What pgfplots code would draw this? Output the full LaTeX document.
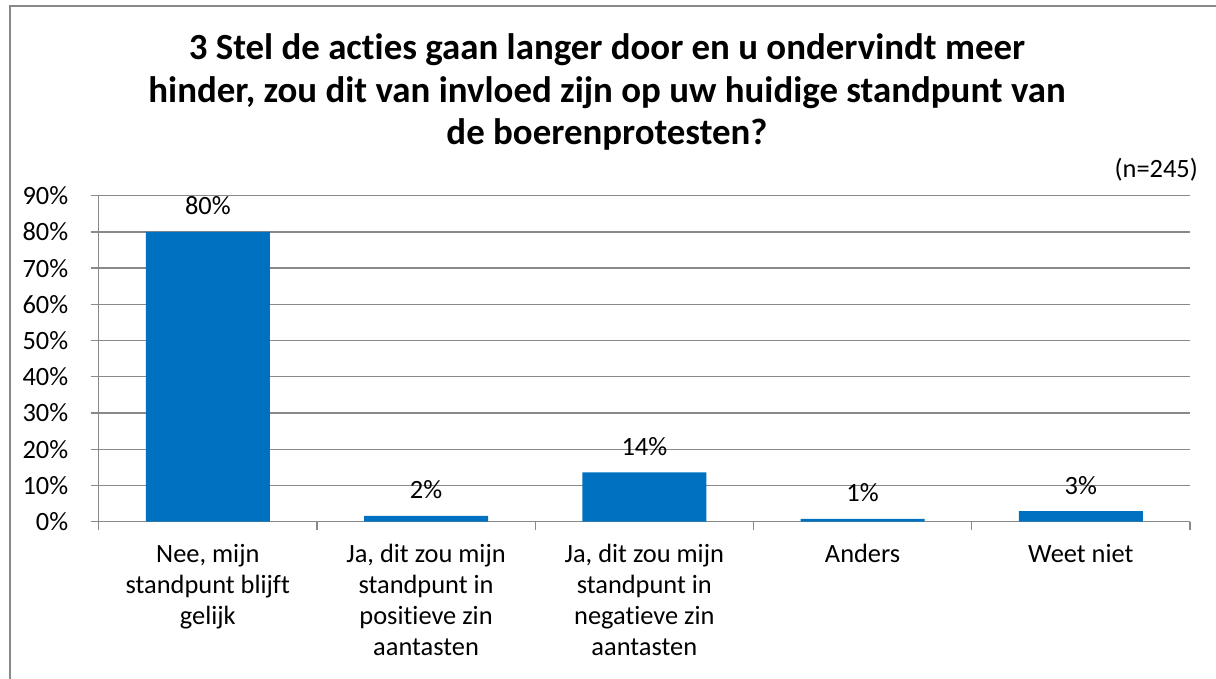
\documentclass[border=0pt]{standalone}
\usepackage{pgfplots}
\pgfplotsset{compat=1.18}
\usepackage{fontspec}
\setmainfont{Carlito}[Ligatures=NoCommon]
\definecolor{barblue}{HTML}{0070C0}
\definecolor{gridgray}{HTML}{898989}
\begin{document}
\begin{tikzpicture}
\useasboundingbox (0bp,0bp) rectangle (1216bp,679bp);
\draw[gridgray, line width=2bp] (10bp,-5bp) -- (10bp,672.5bp) -- (1225bp,672.5bp);
\node[font=\fontsize{37}{43}\selectfont\bfseries, align=center] at (607bp,587bp)
  {3 Stel de acties gaan langer door en u ondervindt meer\\hinder, zou dit van invloed zijn op uw huidige standpunt van\\de boerenprotesten?};
\node[anchor=east, font=\fontsize{26.5}{30}\selectfont, inner sep=0pt] at (1198bp,509bp) {(n=245)};
\begin{axis}[
  at={(98.7bp,157.3bp)}, anchor=south west,
  scale only axis, width=1091.3bp, height=326bp,
  xmin=-0.5, xmax=4.5, ymin=0, ymax=90,
  axis x line*=bottom, axis y line*=left,
  axis line style={gridgray, line width=1.3bp, -},
  ytick={0,10,...,90},
  yticklabel={\pgfmathprintnumber[assume math mode=true]{\tick}\%},
  scaled y ticks=false,
  ymajorgrids, grid style={gridgray, line width=1.3bp},
  major tick style={gridgray, line width=1.3bp},
  tick align=outside, major tick length=8bp,
  xtick={-0.5,0.5,...,4.5}, xticklabels={},
  extra x ticks={0,1,2,3,4},
  extra x tick labels={{Nee, mijn\\standpunt blijft\\gelijk}, {Ja, dit zou mijn\\standpunt in\\positieve zin\\aantasten}, {Ja, dit zou mijn\\standpunt in\\negatieve zin\\aantasten}, {Anders}, {Weet niet}},
  extra x tick style={major tick length=0pt, xticklabel style={align=center, anchor=north, yshift=-19bp}},
  ticklabel style={font=\fontsize{26.5}{31}\selectfont},
  every y tick label/.append style={anchor=east, xshift=-19bp},
  nodes near coords={\pgfmathprintnumber[fixed,precision=0,assume math mode=true]{\pgfplotspointmeta}\%},
  nodes near coords style={font=\fontsize{26.5}{30}\selectfont, anchor=center, yshift=26bp, black},
  clip=false,
]
\addplot[ybar, bar width=124bp, fill=barblue, draw=none] coordinates {
  (0,80.0) (1,1.6) (2,13.6) (3,0.8) (4,2.9)
};
\end{axis}
\end{tikzpicture}
\end{document}
